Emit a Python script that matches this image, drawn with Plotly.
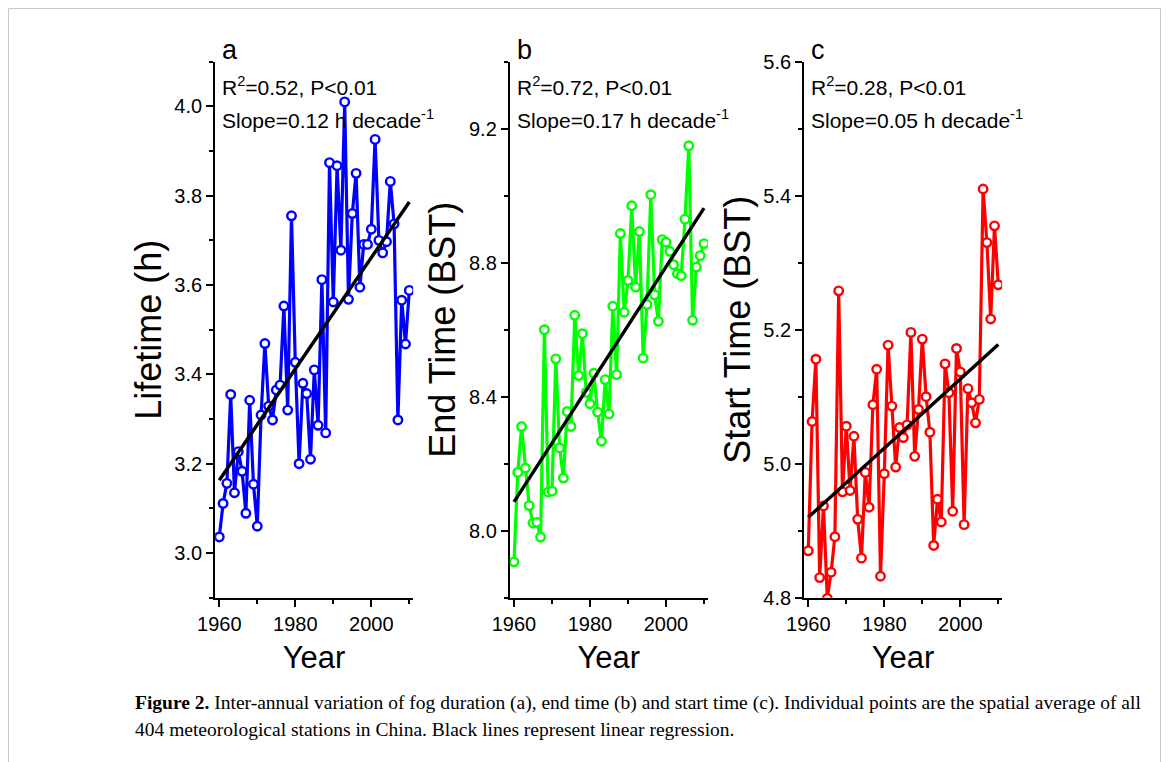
import plotly.graph_objects as go

# ---------------- data ----------------
years = list(range(1960, 2011))

lifetime = [3.036, 3.111, 3.156, 3.355, 3.135, 3.227, 3.183, 3.089, 3.342, 3.154,
            3.060, 3.309, 3.469, 3.329, 3.298, 3.365, 3.376, 3.553, 3.320, 3.755,
            3.427, 3.200, 3.380, 3.357, 3.210, 3.410, 3.286, 3.612, 3.269, 3.874,
            3.562, 3.867, 3.678, 4.010, 3.568, 3.760, 3.850, 3.595, 3.691, 3.691,
            3.725, 3.926, 3.700, 3.672, 3.697, 3.832, 3.737, 3.298, 3.566, 3.468,
            3.588]

end_time = [7.907, 8.174, 8.311, 8.187, 8.075, 8.023, 8.025, 7.981, 8.600, 8.115,
            8.118, 8.513, 8.247, 8.157, 8.356, 8.311, 8.643, 8.463, 8.588, 8.413,
            8.379, 8.470, 8.354, 8.267, 8.451, 8.348, 8.670, 8.466, 8.887, 8.652,
            8.747, 8.970, 8.727, 8.893, 8.515, 8.675, 9.003, 8.704, 8.625, 8.869,
            8.861, 8.834, 8.794, 8.767, 8.761, 8.930, 9.149, 8.628, 8.787, 8.821,
            8.857]

start_time = [4.870, 5.063, 5.156, 4.830, 4.937, 4.799, 4.838, 4.891, 5.258, 4.958,
              5.056, 4.960, 5.041, 4.917, 4.859, 4.987, 4.935, 5.088, 5.141, 4.832,
              4.985, 5.177, 5.086, 4.995, 5.054, 5.039, 5.058, 5.196, 5.011, 5.081,
              5.186, 5.100, 5.047, 4.878, 4.947, 4.913, 5.149, 5.106, 4.929, 5.172,
              5.137, 4.909, 5.112, 5.091, 5.061, 5.096, 5.410, 5.330, 5.216, 5.355,
              5.267]

trend_years = [1960, 2010]
trend_lifetime = [3.163, 3.786]
trend_end = [8.086, 8.963]
trend_start = [4.920, 5.178]

panel_letters = ["a", "b", "c"]
y_titles = ["Lifetime (h)", "End Time (BST)", "Start Time (BST)"]
r2_texts = ["R<sup>2</sup>=0.52, P<0.01", "R<sup>2</sup>=0.72, P<0.01", "R<sup>2</sup>=0.28, P<0.01"]
slope_texts = ["Slope=0.12 h decade<sup>-1</sup>", "Slope=0.17 h decade<sup>-1</sup>",
               "Slope=0.05 h decade<sup>-1</sup>"]
caption_bold = "Figure 2."
caption_line1 = " Inter-annual variation of fog duration (a), end time (b) and start time (c). Individual points are the spatial average of all"
caption_line2 = "404 meteorological stations in China. Black lines represent linear regression."

# ---------------- layout helpers ----------------
# the page body keeps an 8 px margin, so the figure is drawn 8 px smaller
# and every pixel position is measured from the window's corner minus 8.
OFF = 8
W, H = 1169 - OFF, 762 - OFF
FONT = "Liberation Sans, Arial, sans-serif"


def fx(px):
    return (px - OFF) / W


def fy(py):
    return 1 - (py - OFF) / H


series = [lifetime, end_time, start_time]
trends = [trend_lifetime, trend_end, trend_start]
colors = ["#0000FF", "#00FF00", "#FF0000"]
left_px = [215.1, 509.8, 804.1]
plot_w = 198.0
top_px, bottom_px = 61.7, 597.7
yranges = [[2.9, 4.1], [7.8, 9.4], [4.8, 5.6]]
ydticks = [0.2, 0.4, 0.2]
ytick0 = [3.0, 8.0, 4.8]
yminor = [0.1, 0.2, 0.1]

fig = go.Figure()
annotations = []

for i in range(3):
    ax = "" if i == 0 else str(i + 1)
    fig.add_trace(go.Scatter(
        x=years, y=series[i], mode="lines+markers",
        line=dict(color=colors[i], width=3.2),
        marker=dict(symbol="circle", size=8.5, color="white",
                    line=dict(color=colors[i], width=2.4)),
        xaxis="x" + ax, yaxis="y" + ax, showlegend=False))
    fig.add_trace(go.Scatter(
        x=trend_years, y=trends[i], mode="lines",
        line=dict(color="black", width=3.4),
        xaxis="x" + ax, yaxis="y" + ax, showlegend=False))

    common = dict(showline=True, linecolor="black", linewidth=2, mirror=False,
                  ticks="outside", tickcolor="black", tickwidth=2, ticklen=7,
                  showgrid=False, zeroline=False, automargin=False,
                  tickfont=dict(family=FONT, size=20, color="black"))
    xa = dict(common, domain=[fx(left_px[i]), fx(left_px[i] + plot_w)],
              range=[1958.9, 2011], tick0=1960, dtick=20,
              minor=dict(dtick=10, tick0=1960, ticks="outside", ticklen=4,
                         tickwidth=2, tickcolor="black"),
              anchor="y" + ax,
              title=dict(text="Year", font=dict(family=FONT, size=31, color="black"),
                         standoff=13))
    ya = dict(common, domain=[fy(bottom_px), fy(top_px)], range=yranges[i],
              tick0=ytick0[i], dtick=ydticks[i], tickformat=".1f",
              minor=dict(dtick=yminor[i], tick0=ytick0[i], ticks="outside", ticklen=4,
                         tickwidth=2, tickcolor="black"),
              anchor="x" + ax,
              title=dict(text=y_titles[i], font=dict(family=FONT, size=36, color="black"),
                         standoff=2))
    fig.update_layout(**{"xaxis" + ax: xa, "yaxis" + ax: ya})

    lx = left_px[i]
    annotations.append(dict(text=panel_letters[i], x=fx(lx + 5), y=fy(50),
                            xref="paper", yref="paper", xanchor="left", yanchor="middle",
                            showarrow=False, font=dict(family=FONT, size=27, color="black")))
    annotations.append(dict(text=r2_texts[i], x=fx(lx + 5), y=fy(86),
                            xref="paper", yref="paper", xanchor="left", yanchor="middle",
                            showarrow=False, font=dict(family=FONT, size=21, color="black")))
    annotations.append(dict(text=slope_texts[i], x=fx(lx + 5), y=fy(119),
                            xref="paper", yref="paper", xanchor="left", yanchor="middle",
                            showarrow=False, font=dict(family=FONT, size=21, color="black")))

CAP = "Liberation Serif, Times New Roman, serif"
annotations.append(dict(text="<b>" + caption_bold + "</b>" + caption_line1,
                        x=fx(133), y=fy(703), xref="paper", yref="paper",
                        xanchor="left", yanchor="middle", showarrow=False,
                        font=dict(family=CAP, size=19.5, color="black")))
annotations.append(dict(text=caption_line2,
                        x=fx(133), y=fy(729), xref="paper", yref="paper",
                        xanchor="left", yanchor="middle", showarrow=False,
                        font=dict(family=CAP, size=19.5, color="black")))

shapes = [
    dict(type="line", xref="paper", yref="paper", x0=fx(8.5), x1=fx(8.5), y0=0, y1=fy(8.5),
         line=dict(color="#c8c8c8", width=1)),
    dict(type="line", xref="paper", yref="paper", x0=fx(8.5), x1=fx(1160.5), y0=fy(8.5), y1=fy(8.5),
         line=dict(color="#c8c8c8", width=1)),
    dict(type="line", xref="paper", yref="paper", x0=fx(1160.5), x1=fx(1160.5), y0=0, y1=fy(8.5),
         line=dict(color="#c8c8c8", width=1)),
]

fig.update_layout(width=W, height=H, margin=dict(l=0, r=0, t=0, b=0, autoexpand=False),
                  paper_bgcolor="white", plot_bgcolor="white",
                  annotations=annotations, shapes=shapes,
                  font=dict(family=FONT, color="black"))

fig.write_html("out.html")
